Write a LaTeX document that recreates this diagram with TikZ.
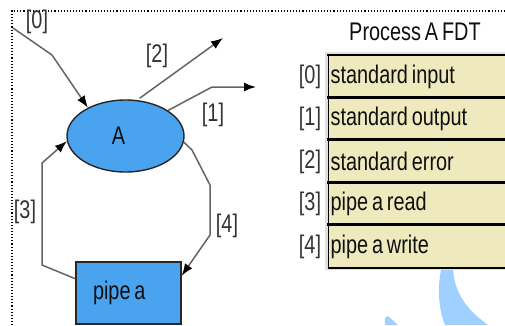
\documentclass[tikz,border=0pt]{standalone}
\usepackage{fontspec}
\setmainfont[FakeStretch=0.78,WordSpace=0.7]{Liberation Sans}
\usetikzlibrary{arrows.meta,shapes.geometric}
\definecolor{procblue}{RGB}{74,163,238}
\definecolor{rowfill}{RGB}{238,234,189}
\definecolor{linegray}{RGB}{100,100,100}
\definecolor{wmblue}{RGB}{160,208,255}
\definecolor{txt}{RGB}{15,15,15}
\begin{document}
\begin{tikzpicture}[x=1pt,y=-1pt,
  every node/.style={font=\fontsize{25.5}{30}\selectfont, text=txt},
  proc/.style={ellipse, draw=black!85, line width=1.4pt, fill=procblue, minimum width=117pt, minimum height=72pt, inner sep=0pt},
  pipebox/.style={rectangle, draw=black!85, line width=1.4pt, fill=procblue, inner xsep=17pt, text width=71pt, align=flush left, minimum height=62pt, inner ysep=0pt},
  conn/.style={draw=linegray, line width=1.5pt, -{Latex[length=12pt,width=9pt,black]}},
  lbl/.style={inner sep=0pt, text=black!80},
  rowbox/.style={rectangle, draw=black, line width=1.2pt, fill=rowfill, minimum width=185pt, minimum height=42.4pt, inner xsep=2pt, inner ysep=0pt, text width=181pt, align=flush left, anchor=north west}
]
\useasboundingbox (0,0) rectangle (505,325);
% watermark
\fill[wmblue] (441,270) .. controls (437,290) and (439,310) .. (445,325) -- (488,325) .. controls (470,312) and (455,296) .. (453,270) -- cycle;
\fill[wmblue] (385,325) -- (385,318) -- (388,316) -- (398,325) -- cycle;
% dotted frame
\draw[dotted, line width=1.1pt] (505,11) -- (12,11) -- (12,325);
% nodes
\node[proc] (A) at (125.5,136) {\hspace*{-14pt}A};
\node[pipebox] (P) at (128.5,293) {pipe a};
% free ends
\coordinate (s0) at (13,28);
\coordinate (e2) at (223,38);
\coordinate (e1) at (256,87);
% connectors
\draw[conn] (s0) -- (52,55) -- (A.143);
\draw[conn, shorten <=3pt] (A.72) -- (e2);
\draw[conn] (A.31) -- (212,87) -- (e1);
\draw[conn] (P.165) -- (42,265) -- (42,163) -- (A.185);
\draw[conn] (A.-6) -- (192,150) -- (210,185) -- (210,235) -- (P.18);
% connector labels
\node[lbl] (l0) at (37,22) {[0]};
\node[lbl] (l2) at (157,56) {[2]};
\node[lbl] (l1) at (213,115) {[1]};
\node[lbl] (l3) at (25,212) {[3]};
\node[lbl] (l4) at (227,226) {[4]};
% table
\node (title) at (415,32) {Process A FDT};
\fill[black!12] (325,52) rectangle (505,270);
\node[rowbox] (r0) at (328,55) {standard input};
\node[rowbox] (r1) at (328,97.4) {standard output};
\node[rowbox] (r2) at (328,139.8) {standard error};
\node[rowbox] (r3) at (328,182.2) {pipe a read};
\node[rowbox] (r4) at (328,224.6) {pipe a write};
\foreach \r in {r0,r1,r2,r3,r4}{\draw[line width=2.8pt, line cap=rect] (\r.north west) -- (\r.north east);}
\draw[line width=2.4pt] (r4.south west) -- (r4.south east);
\node[lbl] (t0) at ([xshift=-18pt]r0.west) {[0]};
\node[lbl] (t1) at ([xshift=-18pt]r1.west) {[1]};
\node[lbl] (t2) at ([xshift=-18pt]r2.west) {[2]};
\node[lbl] (t3) at ([xshift=-18pt]r3.west) {[3]};
\node[lbl] (t4) at ([xshift=-18pt]r4.west) {[4]};
\end{tikzpicture}
\end{document}
